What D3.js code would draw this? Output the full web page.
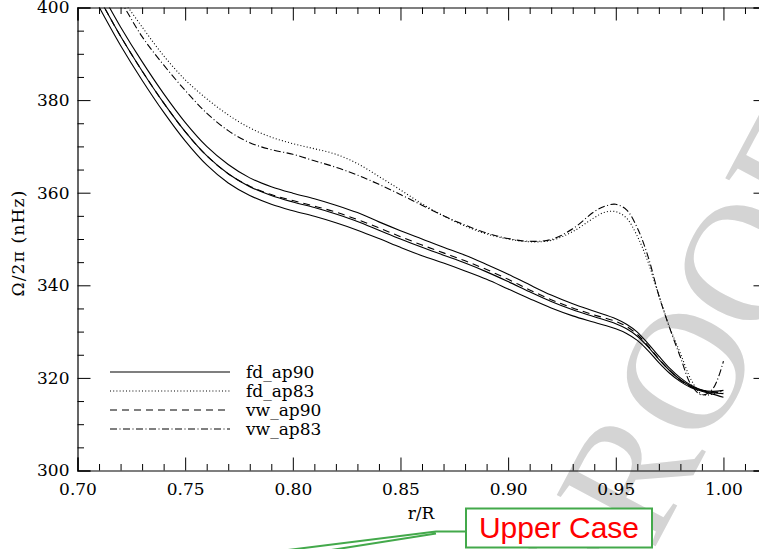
<!DOCTYPE html>
<html>
<head>
<meta charset="utf-8">
<script src="https://cdn.jsdelivr.net/npm/d3@7"></script>
<style>
  html, body { margin: 0; padding: 0; background: #fff; }
  svg { display: block; }
  text { font-family: "DejaVu Serif", serif; }
</style>
</head>
<body>
<svg id="chart" width="759" height="549"></svg>
<script>
// ---- data ----
const r90 = [0.705,0.7125,0.72,0.73,0.74,0.75,0.76,0.77,0.78,0.79,0.80,0.81,0.82,0.83,0.84,0.85,0.86,0.87,0.88,0.89,0.90,0.91,0.92,0.93,0.94,0.95,0.955,0.96,0.965,0.97,0.975,0.98,0.985,0.99,0.995,1.00];
const fd_ap90 = [406.5,400,393.8,386.3,379.4,373.2,368.0,364.1,361.3,359.4,358.0,356.8,355.4,353.8,351.9,350.0,348.2,346.5,344.8,342.9,340.8,338.6,336.5,334.7,333.2,331.7,330.6,329.0,326.7,324.0,321.6,319.6,318.2,317.3,316.8,316.6];
const fd_ap90_hi = [408.5,402,395.8,388.3,381.4,375.2,370.0,366.1,363.2,361.3,359.9,358.7,357.3,355.7,353.7,351.8,350.0,348.2,346.5,344.5,342.4,340.1,337.9,336.0,334.4,332.8,331.6,329.9,327.4,324.7,322.1,320.0,318.4,317.4,317.1,317.3];
const fd_ap90_lo = [404.5,398,391.8,384.3,377.4,371.2,366.0,362.1,359.4,357.5,356.1,354.9,353.5,351.9,350.1,348.2,346.4,344.8,343.1,341.3,339.2,337.1,335.1,333.4,332.0,330.6,329.6,328.1,325.9,323.3,321.0,319.2,317.9,317.1,316.5,315.8];
const vw_ap90 = [406.5,400,393.8,386.3,379.4,373.2,368.0,364.1,361.4,359.6,358.3,357.1,355.8,354.2,352.4,350.5,348.7,347.0,345.3,343.4,341.3,339.0,336.9,335.1,333.6,332.2,331.1,329.4,326.9,324.1,321.6,319.5,318.1,317.3,316.9,316.9];

const r83 = [0.712,0.72,0.73,0.74,0.75,0.76,0.77,0.78,0.79,0.80,0.81,0.82,0.83,0.84,0.85,0.86,0.87,0.88,0.89,0.90,0.91,0.92,0.93,0.94,0.945,0.95,0.955,0.96,0.965,0.97,0.975,0.98,0.985,0.99,0.995,1.00];
const fd_ap83 = [409,402.5,395.8,389.6,384.4,380.3,376.8,374.0,372.0,370.6,369.5,368.3,366.3,363.5,360.6,357.6,355.0,352.8,351.1,350.0,349.4,349.7,351.6,354.6,355.8,355.9,354.5,350.6,345.0,337.8,331.0,325.3,319.6,316.4,316.5,317.3];
const vw_ap83 = [406,401.3,393.7,387.6,382.1,377.2,373.4,370.8,369.3,368.3,366.9,365.5,363.8,361.8,359.6,357.3,355.0,353.0,351.3,350.1,349.5,349.9,352.2,355.9,357.1,357.5,356.3,352.4,346.2,337.8,330.8,324.5,318.5,316.3,317.6,323.6];

const seriesNames = ["fd_ap90","fd_ap83","vw_ap90","vw_ap83"];
const xMajorTicks = [0.70,0.75,0.80,0.85,0.90,0.95,1.00];
const yMajorTicks = [300,320,340,360,380,400];
const xLabel = "r/R";
const yLabel = "Ω/2π  (nHz)";
const calloutText = "Upper Case";
const watermarkText = "PROOF";

// ---- layout ----
const svg = d3.select("#chart");
const x = d3.scaleLinear().domain([0.70, 1.02]).range([77.5, 766.5]);
const y = d3.scaleLinear().domain([300, 400]).range([470.5, 7.5]);

// watermark (behind)
svg.append("g")
  .attr("transform", "translate(686,366) rotate(-62)")
  .append("text")
  .attr("text-anchor", "middle")
  .attr("dy", "0.34em")
  .style("font-family", "'Liberation Serif', serif")
  .style("font-size", "170px")
  .attr("fill", "#d4d4d4")
  .text(watermarkText);

// axes
const xMinor = d3.range(70, 103).map(d => d / 100).filter(d => !xMajorTicks.some(m => Math.abs(m - d) < 1e-9));
const yMinor = d3.range(300, 401, 5).filter(d => d % 20 !== 0);

function styleAxis(g) {
  g.selectAll("path.domain").attr("stroke", "#000").attr("stroke-width", 1.2);
  g.selectAll(".tick line").attr("stroke", "#000").attr("stroke-width", 1);
  g.selectAll(".tick text").attr("fill", "#000").style("font-family", "'DejaVu Serif', serif").style("font-size", "17px");
}

// bottom
svg.append("g").attr("transform", `translate(0,${y(300)})`)
  .call(d3.axisBottom(x).tickValues(xMajorTicks).tickSize(-13).tickPadding(12).tickFormat(d3.format(".2f")))
  .call(styleAxis);
svg.append("g").attr("transform", `translate(0,${y(300)})`)
  .call(d3.axisBottom(x).tickValues(xMinor).tickSize(-6.5).tickFormat(""))
  .call(g => g.select(".domain").remove()).call(styleAxis);
// top
svg.append("g").attr("transform", `translate(0,${y(400)})`)
  .call(d3.axisTop(x).tickValues(xMajorTicks).tickSize(-13).tickFormat(""))
  .call(styleAxis);
svg.append("g").attr("transform", `translate(0,${y(400)})`)
  .call(d3.axisTop(x).tickValues(xMinor).tickSize(-6.5).tickFormat(""))
  .call(g => g.select(".domain").remove()).call(styleAxis);
// left
svg.append("g").attr("transform", `translate(${x(0.70)},0)`)
  .call(d3.axisLeft(y).tickValues(yMajorTicks).tickSize(-13).tickPadding(8).tickFormat(d3.format("d")))
  .call(styleAxis);
svg.append("g").attr("transform", `translate(${x(0.70)},0)`)
  .call(d3.axisLeft(y).tickValues(yMinor).tickSize(-6.5).tickFormat(""))
  .call(g => g.select(".domain").remove()).call(styleAxis);
// right
svg.append("g").attr("transform", `translate(${x(1.02)},0)`)
  .call(d3.axisRight(y).tickValues(yMajorTicks).tickSize(-13).tickFormat(""))
  .call(styleAxis);
svg.append("g").attr("transform", `translate(${x(1.02)},0)`)
  .call(d3.axisRight(y).tickValues(yMinor).tickSize(-6.5).tickFormat(""))
  .call(g => g.select(".domain").remove()).call(styleAxis);

// axis titles
svg.append("text").attr("x", 421).attr("y", 519).attr("text-anchor", "middle")
  .style("font-size", "17px").attr("fill", "#000").text(xLabel);
svg.append("text").attr("transform", "translate(24,243) rotate(-90)").attr("text-anchor", "middle")
  .style("font-size", "17px").style("letter-spacing", "1.2px").attr("fill", "#000").text(yLabel);

// clip
svg.append("clipPath").attr("id", "plotclip").append("rect")
  .attr("x", x(0.70)).attr("y", y(400)).attr("width", x(1.02) - x(0.70)).attr("height", y(300) - y(400));

const line = (xs) => d3.line().x((d, i) => x(xs[i])).y(d => y(d)).curve(d3.curveCatmullRom.alpha(0.5));

const dashes = { solid: null, dotted: "1,2.2", dashed: "7,5", dashdot: "7,2.5,1,2.5" };
const plotG = svg.append("g").attr("clip-path", "url(#plotclip)");
const curves = [
  { xs: r90, v: fd_ap90_hi, s: "solid" },
  { xs: r90, v: fd_ap90, s: "solid" },
  { xs: r90, v: fd_ap90_lo, s: "solid" },
  { xs: r90, v: vw_ap90, s: "dashed" },
  { xs: r83, v: fd_ap83, s: "dotted" },
  { xs: r83, v: vw_ap83, s: "dashdot" }
];
curves.forEach(c => {
  plotG.append("path").datum(c.v)
    .attr("d", line(c.xs))
    .attr("fill", "none").attr("stroke", "#000").attr("stroke-width", 1.1)
    .attr("stroke-dasharray", dashes[c.s]);
});

// legend
const legStyles = ["solid", "dotted", "dashed", "dashdot"];
const legY = [372, 391, 410, 429];
const leg = svg.append("g");
seriesNames.forEach((n, i) => {
  leg.append("line").attr("x1", 110).attr("x2", 230).attr("y1", legY[i]).attr("y2", legY[i])
    .attr("stroke", "#000").attr("stroke-width", 1.1).attr("stroke-dasharray", dashes[legStyles[i]]);
  leg.append("text").attr("x", 246).attr("y", legY[i] + 6).style("font-size", "17px").attr("fill", "#000").text(n);
});

// callout
const green = "#43a94b";
svg.append("path")
  .attr("d", "M466,531.5 H436 L280,551 M436,533.5 L325,551")
  .attr("fill", "none").attr("stroke", green).attr("stroke-width", 2);
svg.append("rect").attr("x", 466).attr("y", 508.5).attr("width", 186).attr("height", 39)
  .attr("fill", "#fff").attr("stroke", green).attr("stroke-width", 2);
svg.append("text").attr("x", 559).attr("y", 538).attr("text-anchor", "middle")
  .style("font-family", "'Liberation Sans', Arial, sans-serif").style("font-size", "30px")
  .attr("fill", "#ff0000").text(calloutText);
</script>
</body>
</html>
